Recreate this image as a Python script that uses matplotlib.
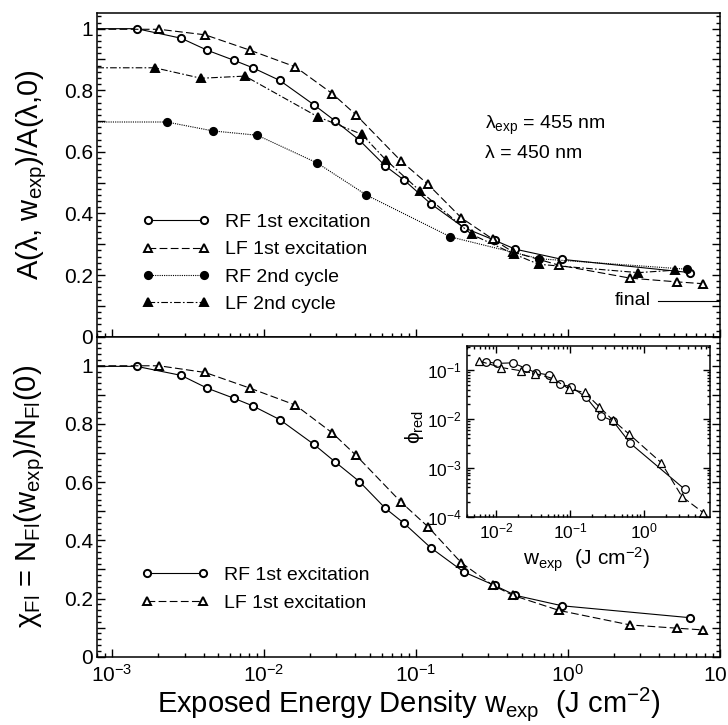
import matplotlib
matplotlib.use("Agg")
import matplotlib.pyplot as plt
from matplotlib.ticker import MultipleLocator, FuncFormatter, LogLocator, NullFormatter

# ---------------- data ----------------
X_START = 8e-4  # left edge of the main axes (series start as flat lines)

X_RF1 = [1.45e-3, 2.85e-3, 4.23e-3, 6.37e-3, 8.45e-3, 0.0127, 0.0213, 0.0295, 0.0425,
         0.063, 0.0838, 0.125, 0.207, 0.33, 0.452, 0.918, 6.4]
A_RF1 = [1.0, 0.969, 0.930, 0.897, 0.873, 0.832, 0.753, 0.700, 0.638,
         0.554, 0.508, 0.432, 0.354, 0.313, 0.284, 0.251, 0.208]
CHI_RF1 = [0.998, 0.967, 0.923, 0.888, 0.862, 0.815, 0.730, 0.669, 0.602,
           0.510, 0.458, 0.375, 0.291, 0.245, 0.211, 0.175, 0.134]

X_LF1 = [2.04e-3, 4.1e-3, 8.1e-3, 0.0161, 0.0282, 0.0404, 0.080, 0.120, 0.199,
         0.32, 0.435, 0.877, 2.58, 5.23, 7.8]
A_LF1 = [0.998, 0.980, 0.930, 0.876, 0.789, 0.720, 0.570, 0.495, 0.386,
         0.317, 0.275, 0.232, 0.190, 0.178, 0.172]
CHI_LF1 = [1.0, 0.977, 0.923, 0.865, 0.769, 0.692, 0.531, 0.447, 0.323,
           0.246, 0.211, 0.159, 0.109, 0.098, 0.092]

X_RF2 = [2.29e-3, 4.62e-3, 9.04e-3, 0.0224, 0.0472, 0.169, 0.65, 6.1]
A_RF2 = [0.697, 0.668, 0.654, 0.564, 0.460, 0.324, 0.253, 0.219]

X_LF2 = [1.91e-3, 3.85e-3, 7.5e-3, 0.0226, 0.0441, 0.0637, 0.1066, 0.233, 0.444,
         0.644, 2.91, 5.1]
A_LF2 = [0.873, 0.839, 0.846, 0.714, 0.657, 0.573, 0.473, 0.332, 0.268,
         0.235, 0.208, 0.216]

FINAL_X = [3.9, 10.0]
FINAL_Y = [0.116, 0.116]

# inset: reduced quantum yield
XI_RF = [7.3e-3, 0.0102, 0.0168, 0.0255, 0.0349, 0.0528, 0.0723, 0.104, 0.166,
         0.267, 0.38, 0.66, 3.6]
PHI_RF = [0.148, 0.137, 0.141, 0.108, 0.088, 0.079, 0.0518, 0.0456, 0.0276,
          0.01146, 0.0092, 3.16e-3, 3.63e-4]
XI_LF = [5.9e-3, 0.0117, 0.0218, 0.034, 0.0586, 0.098, 0.158, 0.25, 0.38,
         0.64, 1.73, 3.3, 6.4]
PHI_LF = [0.153, 0.113, 0.097, 0.085, 0.0676, 0.0408, 0.0349, 0.0178, 0.0095,
          4.83e-3, 1.27e-3, 2.57e-4, 1.21e-4]

LABELS_TOP = ["RF 1st excitation", "LF 1st excitation", "RF 2nd cycle", "LF 2nd cycle"]
LABELS_BOT = ["RF 1st excitation", "LF 1st excitation"]

# ---------------- style ----------------
FONT = "Liberation Sans"
plt.rcParams["font.family"] = [FONT, "DejaVu Sans"]
plt.rcParams["mathtext.fontset"] = "custom"
plt.rcParams["mathtext.rm"] = FONT
plt.rcParams["mathtext.it"] = FONT
plt.rcParams["mathtext.bf"] = FONT
plt.rcParams["axes.linewidth"] = 1.1

fig = plt.figure(figsize=(7.28, 7.25), dpi=100)
ax1 = fig.add_axes([0.1337, 0.5356, 0.8549, 0.4461])
ax2 = fig.add_axes([0.1337, 0.0942, 0.8549, 0.4414])
axi = fig.add_axes([0.6411, 0.2873, 0.3342, 0.2359])

LW = 0.8
MS = 5.2
MEW = 1.4

def series(ax, x, y, marker, filled, ls, dash=None):
    xs = [X_START] + list(x)
    ys = [y[0]] + list(y)
    kw = dict(color="black", lw=LW, marker=marker, ms=MS, mew=MEW,
              mfc="black" if filled else "white", mec="black",
              markevery=list(range(1, len(xs))), ls=ls)
    ln, = ax.plot(xs, ys, **kw)
    if dash is not None:
        ln.set_dashes(dash)
    return ln

STY = {
    "RF1": dict(marker="o", filled=False, ls="-", dash=None),
    "LF1": dict(marker="^", filled=False, ls="--", dash=(7, 3)),
    "RF2": dict(marker="o", filled=True, ls=":", dash=(1, 1)),
    "LF2": dict(marker="^", filled=True, ls="-.", dash=(6, 2, 1.5, 2)),
}

h1 = series(ax1, X_RF1, A_RF1, **STY["RF1"])
h2 = series(ax1, X_LF1, A_LF1, **STY["LF1"])
h3 = series(ax1, X_RF2, A_RF2, **STY["RF2"])
h4 = series(ax1, X_LF2, A_LF2, **STY["LF2"])
ax1.plot(FINAL_X, FINAL_Y, color="black", lw=LW)
ax1.text(3.5, FINAL_Y[0], "final", ha="right", va="center", fontsize=14)

g1 = series(ax2, X_RF1, CHI_RF1, **STY["RF1"])
g2 = series(ax2, X_LF1, CHI_LF1, **STY["LF1"])

ax1.text(0.623, 0.652, "λ$_{\\rm exp}$ = 455 nm", transform=ax1.transAxes, fontsize=14,
         va="center", ha="left")
ax1.text(0.623, 0.566, "λ = 450 nm", transform=ax1.transAxes, fontsize=14,
         va="center", ha="left")

TICKFS = 15

def yfmt(v, pos):
    r = round(v * 10)
    if r % 2:
        return ""
    if abs(v) < 1e-9:
        return "0"
    if abs(v - 1) < 1e-9:
        return "1"
    return f"{v:.1f}"

for ax, top in ((ax1, 1.05), (ax2, 1.10)):
    ax.set_xscale("log")
    ax.set_xlim(X_START, 10)
    ax.set_ylim(0, top)
    ax.yaxis.set_major_locator(MultipleLocator(0.1))
    ax.yaxis.set_minor_locator(MultipleLocator(0.02))
    ax.yaxis.set_major_formatter(FuncFormatter(yfmt))
    ax.xaxis.set_major_locator(LogLocator(base=10, numticks=20))
    ax.xaxis.set_minor_locator(LogLocator(base=10, subs=range(2, 10), numticks=50))
    ax.xaxis.set_minor_formatter(NullFormatter())
    ax.tick_params(which="both", direction="in", right=True, top=False,
                   width=1.0, labelsize=TICKFS)
    ax.tick_params(which="major", length=6)
    ax.tick_params(which="minor", length=3)
    ax.tick_params(axis="y", pad=3)
    ax.tick_params(axis="x", pad=5)

ax1.tick_params(axis="x", labelbottom=False)

ax1.set_ylabel("A(λ, w$_{\\rm exp}$)/A(λ,0)", fontsize=21, va="center")
ax1.yaxis.set_label_coords(-0.105, 0.5)
ax2.set_ylabel("χ$_{\\rm Fl}$ = N$_{\\rm Fl}$(w$_{\\rm exp}$)/N$_{\\rm Fl}$(0)", fontsize=21,
               va="center")
ax2.yaxis.set_label_coords(-0.108, 0.5)
ax2.set_xlabel("Exposed Energy Density w$_{\\rm exp}$  (J cm$^{-2}$)", fontsize=21,
               labelpad=0)

# legends
LEGKW = dict(loc="upper left", frameon=False, numpoints=2, handlelength=3.5,
             handletextpad=0.77, fontsize=14, borderaxespad=0, borderpad=0)
leg1 = ax1.legend([h1, h2, h3, h4], LABELS_TOP, bbox_to_anchor=(0.072, 0.381),
                  labelspacing=0.5, **LEGKW)
leg2 = ax2.legend([g1, g2], LABELS_BOT, bbox_to_anchor=(0.070, 0.283),
                  labelspacing=0.56, **LEGKW)

# inset
IMS = 5.5
axi.plot(XI_RF, PHI_RF, color="black", lw=LW, marker="o", ms=IMS, mfc="white",
         mec="black", mew=0.9, ls="-")
li, = axi.plot(XI_LF, PHI_LF, color="black", lw=LW, marker="^", ms=IMS, mfc="white",
               mec="black", mew=0.9, ls="--")
li.set_dashes((7, 3))
axi.set_xscale("log")
axi.set_yscale("log")
axi.set_xlim(0.004, 7.9)
axi.set_ylim(1e-4, 10 ** -0.5)
axi.xaxis.set_major_locator(LogLocator(base=10, numticks=20))
axi.xaxis.set_minor_locator(LogLocator(base=10, subs=range(2, 10), numticks=50))
axi.yaxis.set_major_locator(LogLocator(base=10, numticks=20))
axi.yaxis.set_minor_locator(LogLocator(base=10, subs=range(2, 10), numticks=50))
axi.xaxis.set_minor_formatter(NullFormatter())
axi.yaxis.set_minor_formatter(NullFormatter())
axi.tick_params(which="both", direction="in", top=True, right=True, width=1.0,
                labelsize=12.5)
axi.tick_params(which="major", length=5)
axi.tick_params(which="minor", length=2.5)
axi.set_xlabel("w$_{\\rm exp}$  (J cm$^{-2}$)", fontsize=15, va="center")
axi.xaxis.set_label_coords(0.494, -0.25)
axi.set_ylabel("ϕ$_{\\rm red}$", fontsize=15, va="center")
axi.yaxis.set_label_coords(-0.215, 0.525)

fig.savefig("out.png", dpi=100)
